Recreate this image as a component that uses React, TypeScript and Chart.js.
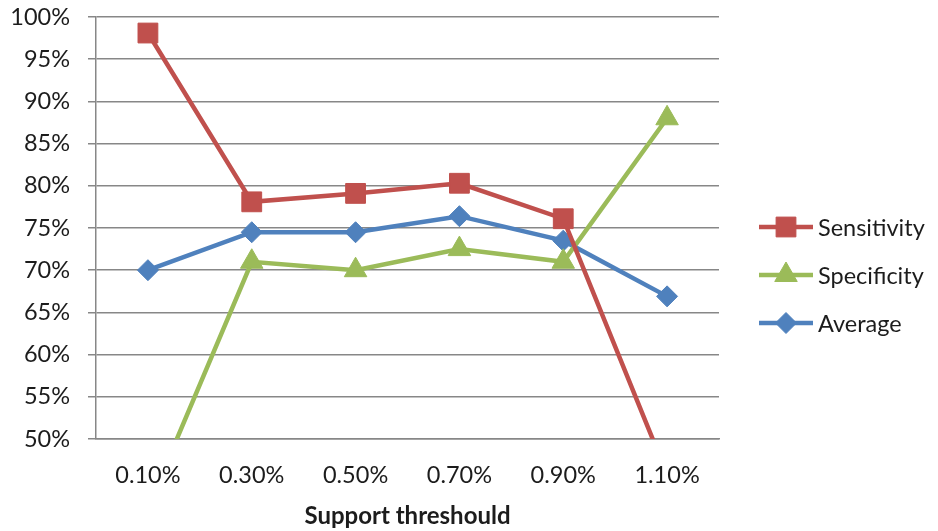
import React, { useEffect, useRef } from 'react';
import { Chart, registerables } from 'chart.js';
import { drawPoint } from 'chart.js/helpers';

Chart.register(...registerables);

// Support thresholds on the category axis
const thresholds = ['0.10%', '0.30%', '0.50%', '0.70%', '0.90%', '1.10%'];

// Measured rates (%) per threshold
const sensitivity = [98.1, 78.1, 79.1, 80.3, 76.1, 45.8];
const specificity = [41.9, 71.0, 70.0, 72.5, 71.0, 88.0];
const average = [70.0, 74.5, 74.5, 76.4, 73.5, 66.9];

// Value axis range
const yMin = 50;
const yMax = 100;
const yStep = 5;

const FONT = 'Lato, "Open Sans", "DejaVu Sans", sans-serif';
const TEXT = '#1c1c1c';
const GRID = '#878787';

const series = [
  { label: 'Sensitivity', data: sensitivity, color: '#C0504D', style: 'rect', radius: 14 },
  { label: 'Specificity', data: specificity, color: '#9BBB59', style: 'triangle', radius: 13 },
  { label: 'Average', data: average, color: '#4F81BD', style: 'rectRot', radius: 10.5 },
];

// Legend on the right: a short line with the series marker, then its name
const lineLegend = {
  id: 'lineLegend',
  afterDraw(chart: any) {
    const { ctx, chartArea } = chart;
    const x0 = chartArea.right + 40;
    const x1 = x0 + 54;
    const firstY = 227;
    const gap = 48;
    ctx.save();
    chart.data.datasets.forEach((ds: any, i: number) => {
      const y = firstY + i * gap;
      ctx.strokeStyle = ds.borderColor;
      ctx.fillStyle = ds.backgroundColor;
      ctx.lineWidth = 4.5;
      ctx.beginPath();
      ctx.moveTo(x0, y);
      ctx.lineTo(x1, y);
      ctx.stroke();
      ctx.lineWidth = 1;
      drawPoint(ctx, { pointStyle: ds.pointStyle, radius: ds.pointRadius, rotation: 0, borderWidth: 1 }, (x0 + x1) / 2, y);
      ctx.fillStyle = TEXT;
      ctx.font = `23.5px ${FONT}`;
      ctx.textAlign = 'left';
      ctx.textBaseline = 'middle';
      ctx.fillText(ds.label, x1 + 5, y + 1);
    });
    ctx.restore();
  },
};

export default function App() {
  const canvasRef = useRef<HTMLCanvasElement | null>(null);

  useEffect(() => {
    if (!canvasRef.current) return;
    const chart = new Chart(canvasRef.current, {
      type: 'line',
      data: {
        labels: thresholds,
        datasets: series.map((s) => ({
          label: s.label,
          data: s.data,
          borderColor: s.color,
          backgroundColor: s.color,
          borderWidth: 4.5,
          pointStyle: s.style as any,
          pointRadius: s.radius,
          pointHoverRadius: s.radius,
          pointBorderWidth: 1,
          pointBorderColor: s.color,
          pointBackgroundColor: s.color,
          tension: 0,
          clip: 0,
        })),
      },
      options: {
        responsive: false,
        animation: false,
        devicePixelRatio: 1,
        layout: { padding: { left: 0, right: 219, top: 17, bottom: 0 } },
        plugins: {
          legend: { display: false },
          tooltip: { enabled: false },
        },
        scales: {
          x: {
            offset: true,
            grid: { display: false, drawTicks: false },
            border: { display: true, color: GRID, width: 1.5 },
            ticks: {
              color: TEXT,
              font: { family: FONT, size: 23.5 },
              padding: 22,
              maxRotation: 0,
            },
            title: {
              display: true,
              text: 'Support threshould',
              color: TEXT,
              font: { family: FONT, size: 24, weight: 'bold' },
              padding: { top: 0, bottom: 0 },
            },
            afterFit: (scale: any) => {
              scale.height = 92;
            },
          },
          y: {
            min: yMin,
            max: yMax,
            grid: { color: GRID, lineWidth: 1.5, drawTicks: true, tickLength: 8 },
            border: { display: true, color: GRID, width: 1.5 },
            ticks: {
              stepSize: yStep,
              color: TEXT,
              font: { family: FONT, size: 23.5 },
              padding: 18,
              callback: (v: any) => `${v}%`,
            },
            afterFit: (scale: any) => {
              scale.width = 96;
              scale.paddingTop = 0;
              scale.paddingBottom = 0;
            },
          },
        },
      },
      plugins: [lineLegend],
    });
    return () => chart.destroy();
  }, []);

  return (
    <div style={{ position: 'fixed', left: 0, top: 0, width: 938, height: 531, background: '#fff' }}>
      <canvas ref={canvasRef} width={938} height={531} />
    </div>
  );
}
